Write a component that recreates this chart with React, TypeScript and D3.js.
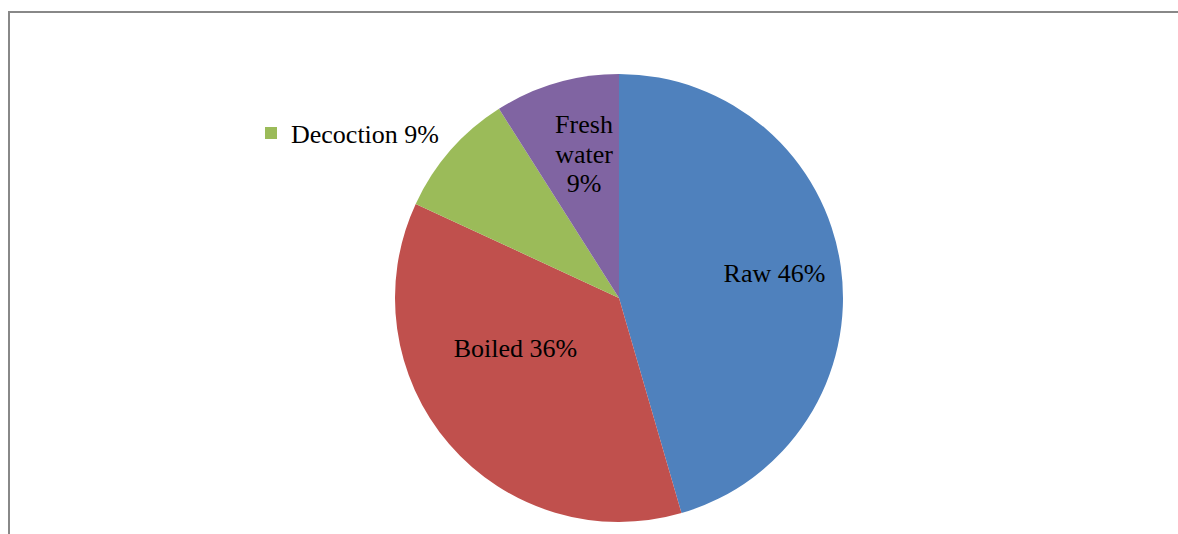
import * as d3 from "d3";

const categories = ["Raw", "Boiled", "Decoction", "Fresh water"];
// slice sizes (the labels are rounded)
const shares = [45.5, 36.4, 9.1, 9.0];
const percentLabels = ["46%", "36%", "9%", "9%"];
const colors = ["#4F81BD", "#C0504D", "#9BBB59", "#8064A2"];
// label placement: angle (deg from 12 o'clock, clockwise) and radius fraction; null = shown in legend
const labelPlacement: ({ angle: number; r: number; lines: string[] } | null)[] = [
  { angle: 81.0, r: 0.703, lines: ["Raw 46%"] },
  { angle: 244.0, r: 0.514, lines: ["Boiled 36%"] },
  null,
  { angle: 346.3, r: 0.66, lines: ["Fresh", "water", "9%"] },
];
const legendItems = [2];

const serif = "'Liberation Serif', 'Times New Roman', Times, serif";

function App() {
  const width = 1178;
  const height = 534;
  const cx = 619;
  const cy = 298;
  const radius = 224;
  const fontSize = 26;
  const lineHeight = 29.5;

  const pie = d3
    .pie<number>()
    .sort(null)
    .value((d) => d);
  const arcs = pie(shares);
  const arc = d3.arc<d3.PieArcDatum<number>>().innerRadius(0).outerRadius(radius);

  return (
    <svg
      width={width}
      height={height}
      style={{ position: "absolute", left: 0, top: 0, display: "block", fontFamily: serif }}
    >
      <rect x={0} y={0} width={width} height={height} fill="#fff" />
      <path
        d={`M9,${height + 5} V12 H${width + 5}`}
        fill="none"
        stroke="#888"
        strokeWidth={2}
      />
      <g transform={`translate(${cx},${cy})`}>
        {arcs.map((a, i) => (
          <path key={categories[i]} d={arc(a) ?? ""} fill={colors[i]} />
        ))}
        {labelPlacement.map((p, i) => {
          if (!p) return null;
          const t = (p.angle * Math.PI) / 180;
          const x = Math.sin(t) * p.r * radius;
          const y = -Math.cos(t) * p.r * radius;
          const first = y - ((p.lines.length - 1) * lineHeight) / 2 + fontSize * 0.33;
          return (
            <text
              key={categories[i]}
              textAnchor="middle"
              fontSize={fontSize}
              fill="#000"
              style={{ fontFamily: serif }}
            >
              {p.lines.map((l, j) => (
                <tspan key={j} x={x} y={first + j * lineHeight}>
                  {l}
                </tspan>
              ))}
            </text>
          );
        })}
      </g>
      {legendItems.map((i, k) => (
        <g key={categories[i]} transform={`translate(265,${127 + k * 30})`}>
          <rect width={12} height={12} fill={colors[i]} />
          <text x={26} y={16} fontSize={fontSize} fill="#000" style={{ fontFamily: serif }}>
            {`${categories[i]} ${percentLabels[i]}`}
          </text>
        </g>
      ))}
    </svg>
  );
}

export default App;
